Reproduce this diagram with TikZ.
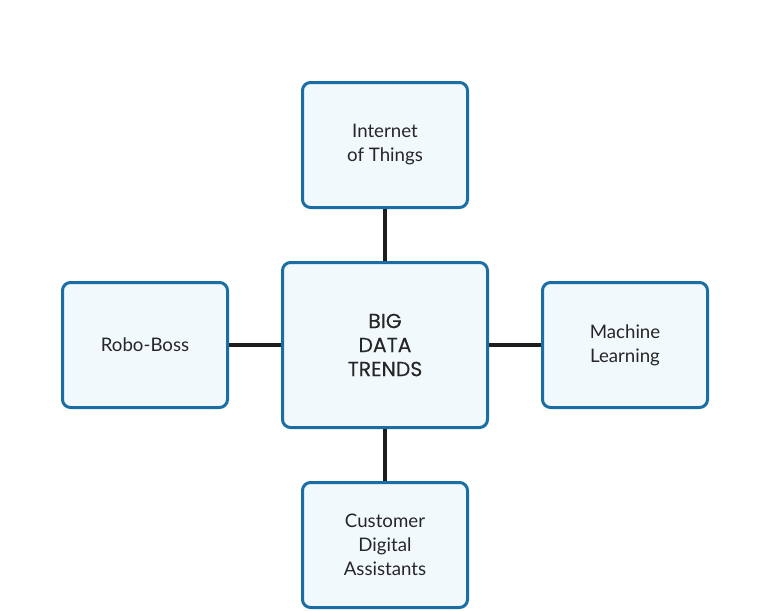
\documentclass[tikz,border=0pt]{standalone}
\usepackage{fontspec}
\setmainfont{Lato}
\newfontfamily\centerfont[FakeBold=0.2]{Poppins}
\definecolor{boxblue}{HTML}{1A6EA3}
\definecolor{boxfill}{HTML}{F2F9FD}
\definecolor{linkc}{HTML}{1E1E1E}
\begin{document}
\begin{tikzpicture}[x=0.75pt,y=-0.75pt,
  topic/.style={draw=boxblue, fill=boxfill, line width=2.25pt, rounded corners=6pt,
    minimum width=123.75pt, minimum height=93.75pt, align=center, inner sep=0pt,
    font=\fontsize{14}{18}\selectfont, text=black!85},
  hub/.style={topic, minimum width=153.75pt, minimum height=123.75pt,
    font=\centerfont\fontsize{15.3}{18}\selectfont},
  link/.style={draw=linkc, line width=2.6pt}]
\useasboundingbox (0,0) rectangle (770,610);
\node[hub] (c) at (385,345) {BIG\\DATA\\TRENDS};
\node[topic] (t) at (385,145) {Internet\\of Things};
\node[topic] (l) at (145,345) {Robo-Boss};
\node[topic] (r) at (625,345) {Machine\\Learning};
\node[topic] (b) at (385,545) {Customer\\Digital\\Assistants};
\draw[link] (c) -- (t);
\draw[link] (c) -- (l);
\draw[link] (c) -- (r);
\draw[link] (c) -- (b);
\end{tikzpicture}
\end{document}
